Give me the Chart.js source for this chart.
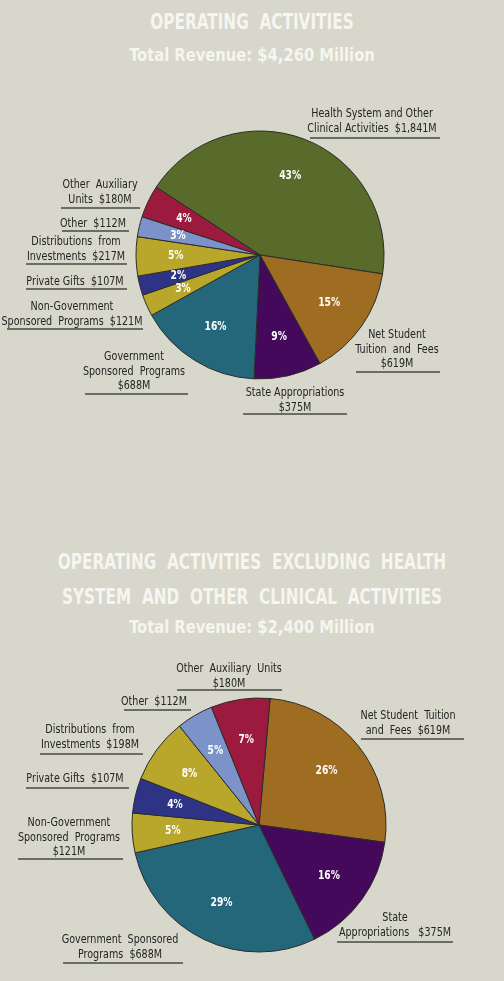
<!DOCTYPE html>
<html>
<head>
<meta charset="utf-8">
<script src="https://cdn.jsdelivr.net/npm/chart.js@4.4.1/dist/chart.umd.min.js"></script>
<style>
  html, body { margin: 0; padding: 0; }
  body {
    width: 504px; height: 981px; overflow: hidden; position: relative;
    background: #d8d7cb;
    font-family: "DejaVu Sans Condensed", "Liberation Sans", sans-serif;
  }
  .t {
    position: absolute; left: 0; width: 504px; text-align: center;
    color: #f6f5ef; font-weight: bold; white-space: pre; line-height: 1;
  }
  .big { font-size: 21px; transform: scaleX(0.81); }
  .sub { font-size: 18px; transform: scaleX(0.91); }
  canvas { position: absolute; left: 0; }
</style>
</head>
<body>

<div class="t big" style="top:12px">OPERATING  ACTIVITIES</div>
<div class="t sub" style="top:46px">Total Revenue: $4,260 Million</div>

<div class="t big" style="top:552px">OPERATING  ACTIVITIES  EXCLUDING  HEALTH</div>
<div class="t big" style="top:587px">SYSTEM  AND  OTHER  CLINICAL  ACTIVITIES</div>
<div class="t sub" style="top:618px">Total Revenue: $2,400 Million</div>

<canvas id="pie1" width="504" height="490" style="top:0"></canvas>
<canvas id="pie2" width="504" height="491" style="top:490px"></canvas>

<script>
const FONT = '"DejaVu Sans Condensed", "Liberation Sans", sans-serif';

// ---- top pie: all operating activities ($ millions)
const categories1 = [
  ['Health System and Other', 'Clinical Activities  $1,841M'],
  ['Net Student', 'Tuition  and  Fees', '$619M'],
  ['State Appropriations', '$375M'],
  ['Government', 'Sponsored  Programs', '$688M'],
  ['Non-Government', 'Sponsored  Programs  $121M'],
  ['Private Gifts  $107M'],
  ['Distributions  from', 'Investments  $217M'],
  ['Other  $112M'],
  ['Other  Auxiliary', 'Units  $180M']
];
const values1 = [1841, 619, 375, 688, 121, 107, 217, 112, 180];
const pct1 = ['43%', '15%', '9%', '16%', '3%', '2%', '5%', '3%', '4%'];

// ---- bottom pie: excluding health system
const categories2 = [
  ['Net Student  Tuition', 'and  Fees  $619M'],
  ['State', 'Appropriations   $375M'],
  ['Government  Sponsored', 'Programs  $688M'],
  ['Non-Government', 'Sponsored  Programs', '$121M'],
  ['Private Gifts  $107M'],
  ['Distributions  from', 'Investments  $198M'],
  ['Other  $112M'],
  ['Other  Auxiliary  Units', '$180M']
];
const values2 = [619, 375, 688, 121, 107, 198, 112, 180];
const pct2 = ['26%', '16%', '29%', '5%', '4%', '8%', '5%', '7%'];

// colours
const GREEN = '#586b2a', OCHRE = '#9e6d22', PURPLE = '#44095a', TEAL = '#24677a',
      MUSTARD = '#b9a72c', NAVY = '#2f3386', SKY = '#7b93c8', CRIMSON = '#9b1a3d';
const colors1 = [GREEN, OCHRE, PURPLE, TEAL, MUSTARD, NAVY, MUSTARD, SKY, CRIMSON];
const colors2 = [OCHRE, PURPLE, TEAL, MUSTARD, NAVY, MUSTARD, SKY, CRIMSON];

// where the category captions sit (x = centre of text, y = first line, u = underline)
const spots1 = [
  { x: 372, y: 114, u: 138, x1: 310, x2: 440 },
  { x: 397, y: 335, u: 372, x1: 356, x2: 440 },
  { x: 295, y: 393, u: 414, x1: 243, x2: 347 },
  { x: 134, y: 357, u: 394, x1: 85,  x2: 188 },
  { x: 72,  y: 307, u: 329, x1: 7,   x2: 143 },
  { x: 75,  y: 282, u: 289, x1: 26,  x2: 127 },
  { x: 76,  y: 242, u: 264, x1: 26,  x2: 127 },
  { x: 93,  y: 224, u: 231, x1: 62,  x2: 129 },
  { x: 100, y: 185, u: 208, x1: 61,  x2: 140 }
];
const spots2 = [
  { x: 408, y: 226, u: 249, x1: 361, x2: 464 },
  { x: 395, y: 428, u: 452, x1: 337, x2: 453 },
  { x: 120, y: 450, u: 473, x1: 63,  x2: 183 },
  { x: 69,  y: 333, u: 369, x1: 18,  x2: 123 },
  { x: 75,  y: 289, u: 298, x1: 26,  x2: 129 },
  { x: 90,  y: 240, u: 264, x1: 40,  x2: 143 },
  { x: 154, y: 212, u: 220, x1: 124, x2: 191 },
  { x: 229, y: 179, u: 200, x1: 177, x2: 282 }
];

const LINE = 14.5;
const SQUEEZE = 0.82;   // the original lettering is a narrow face

function narrowText(ctx, text, x, y, k) {
  ctx.save();
  ctx.translate(x, y);
  ctx.scale(k, 1);
  ctx.fillText(text, 0, 0);
  ctx.restore();
}

const notes = {
  id: 'notes',
  afterDraw(chart, args, opts) {
    const ctx = chart.ctx;
    const meta = chart.getDatasetMeta(0);
    ctx.save();
    ctx.textAlign = 'center';
    ctx.textBaseline = 'middle';

    // percentages inside the slices
    ctx.fillStyle = '#ffffff';
    ctx.font = 'bold 12px ' + FONT;
    meta.data.forEach((arc, i) => {
      const p = arc.getProps(['x', 'y', 'startAngle', 'endAngle', 'outerRadius'], true);
      const a = (p.startAngle + p.endAngle) / 2;
      const r = p.outerRadius * 0.68;
      narrowText(ctx, opts.pct[i], p.x + Math.cos(a) * r, p.y + Math.sin(a) * r, 0.85);
    });

    // captions with rule underneath
    ctx.font = '13px ' + FONT;
    chart.data.labels.forEach((lines, i) => {
      const s = opts.spots[i];
      ctx.fillStyle = '#242424';
      lines.forEach((ln, k) => narrowText(ctx, ln, s.x, s.y + k * LINE, SQUEEZE));
      ctx.strokeStyle = '#6c6c66';
      ctx.lineWidth = 2;
      ctx.beginPath();
      ctx.moveTo(s.x1, s.u);
      ctx.lineTo(s.x2, s.u);
      ctx.stroke();
    });
    ctx.restore();
  }
};

function makePie(id, labels, values, colors, pct, spots, pad, radius, rotation) {
  return new Chart(document.getElementById(id), {
    type: 'pie',
    data: {
      labels: labels,
      datasets: [{
        data: values,
        backgroundColor: colors,
        borderColor: '#2b2b2b',
        borderWidth: 1
      }]
    },
    options: {
      responsive: false,
      animation: false,
      rotation: rotation,
      radius: radius,
      layout: { padding: pad },
      plugins: {
        legend: { display: false },
        tooltip: { enabled: false },
        notes: { pct: pct, spots: spots }
      }
    },
    plugins: [notes]
  });
}

// pie centre (260,255) r 124 ; pie centre (259,335) r 127 in the lower canvas
makePie('pie1', categories1, values1, colors1, pct1, spots1,
  { left: 130, right: 114, top: 125, bottom: 105 }, 124, -56.8);
makePie('pie2', categories2, values2, colors2, pct2, spots2,
  { left: 129, right: 115, top: 205, bottom: 26 }, 127, 5);
</script>
</body>
</html>
